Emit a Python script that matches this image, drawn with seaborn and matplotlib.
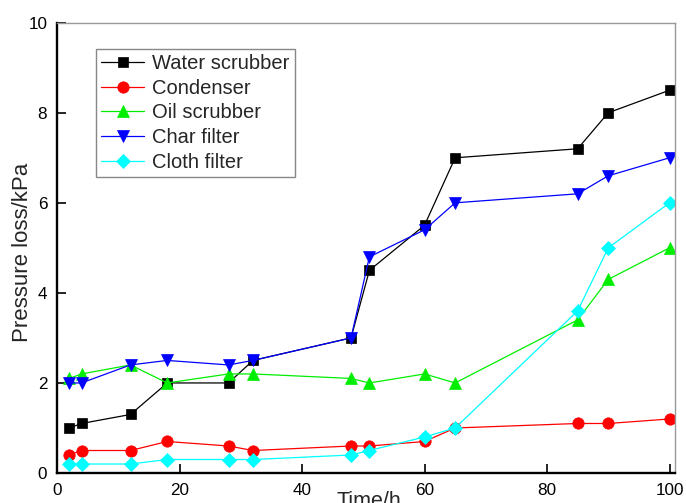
import matplotlib
matplotlib.use("Agg")
import matplotlib.pyplot as plt
import seaborn as sns
import pandas as pd

time_h = [2, 4, 12, 18, 28, 32, 48, 51, 60, 65, 85, 90, 100]
water_scrubber = [1.0, 1.1, 1.3, 2.0, 2.0, 2.5, 3.0, 4.5, 5.5, 7.0, 7.2, 8.0, 8.5]
condenser = [0.4, 0.5, 0.5, 0.7, 0.6, 0.5, 0.6, 0.6, 0.7, 1.0, 1.1, 1.1, 1.2]
oil_scrubber = [2.1, 2.2, 2.4, 2.0, 2.2, 2.2, 2.1, 2.0, 2.2, 2.0, 3.4, 4.3, 5.0]
char_filter = [2.0, 2.0, 2.4, 2.5, 2.4, 2.5, 3.0, 4.8, 5.4, 6.0, 6.2, 6.6, 7.0]
cloth_filter = [0.2, 0.2, 0.2, 0.3, 0.3, 0.3, 0.4, 0.5, 0.8, 1.0, 3.6, 5.0, 6.0]

series_names = ["Water scrubber", "Condenser", "Oil scrubber", "Char filter", "Cloth filter"]
series_values = [water_scrubber, condenser, oil_scrubber, char_filter, cloth_filter]
colors = ["#000000", "#ff0000", "#00ee00", "#0000ff", "#00ffff"]
markers = ["s", "o", "^", "v", "D"]
msizes = [7.2, 8.2, 8.5, 8.5, 7.2]
xticks = [0, 20, 40, 60, 80, 100]
yticks = [0, 2, 4, 6, 8, 10]

sns.set_style("ticks")
plt.rcParams["font.family"] = ["Liberation Sans", "DejaVu Sans"]

fig = plt.figure(figsize=(6.86, 5.03), dpi=100)
ax = fig.add_axes([0.0831, 0.0596, 0.9009, 0.8953])

for name, vals, c, m, ms in zip(series_names, series_values, colors, markers, msizes):
    df = pd.DataFrame({"Time/h": time_h, "val": vals})
    sns.lineplot(data=df, x="Time/h", y="val", ax=ax, color=c, marker=m,
                 markersize=ms, markeredgecolor=c, markeredgewidth=0.5,
                 linewidth=0.9, label=name, sort=False)

ax.set_xlim(0, 100.9)
ax.set_ylim(0, 10)
ax.set_xticks(xticks)
ax.set_yticks(yticks)
ax.set_xticklabels([str(v) for v in xticks])
ax.set_yticklabels([str(v) for v in yticks])
ax.tick_params(direction="in", length=6.5, width=1.2, top=False, right=False,
               labelsize=12.3, pad=7, colors="black")

for s in ["left", "bottom"]:
    ax.spines[s].set_color("black")
    ax.spines[s].set_linewidth(1.7)
for s in ["top", "right"]:
    ax.spines[s].set_color("#999999")
    ax.spines[s].set_linewidth(1.0)
    ax.spines[s].set_visible(True)

ax.set_xlabel("Time/h", fontsize=15.5)
ax.xaxis.set_label_coords(0.505, -0.039)
ax.set_ylabel("Pressure loss/kPa", fontsize=16)
ax.yaxis.set_label_coords(-0.039, 0.49)

leg = ax.legend(loc="upper left", bbox_to_anchor=(0.063, 0.9416), borderaxespad=0,
                fontsize=14.5, frameon=True, fancybox=False, shadow=False,
                handlelength=2.15, handletextpad=0.4, labelspacing=0.28,
                borderpad=0.25)
leg.get_frame().set_edgecolor("#888888")
leg.get_frame().set_linewidth(1.0)
leg.get_frame().set_alpha(1)

fig.savefig("out.png", dpi=100)
